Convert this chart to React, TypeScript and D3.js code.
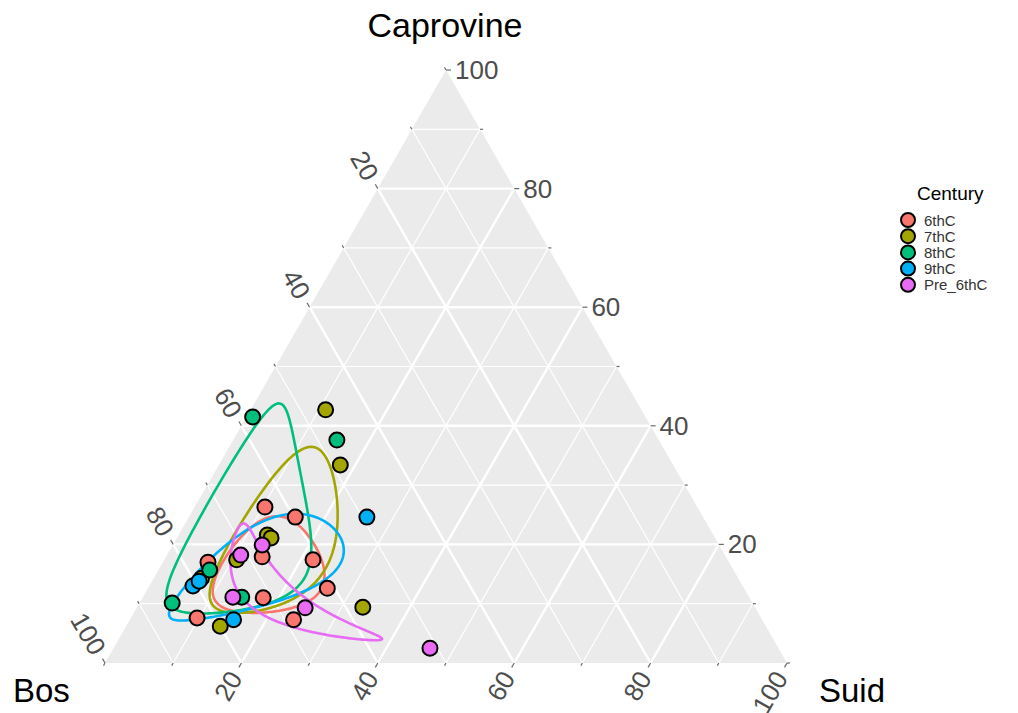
import React from 'react';
import * as d3 from 'd3';

// point data (percent composition)
const centuries = ['6thC', '7thC', '8thC', '9thC', 'Pre_6thC'];
const colors = ['#F8766D', '#A3A500', '#00BF7D', '#00B0F6', '#E76BF3'];

const century = [
  '6thC', '6thC', '6thC', '6thC', '6thC', '6thC', '6thC', '6thC', '6thC',
  '7thC', '7thC', '7thC', '7thC', '7thC', '7thC', '7thC', '7thC',
  '8thC', '8thC', '8thC', '8thC', '8thC',
  '9thC', '9thC', '9thC', '9thC',
  'Pre_6thC', 'Pre_6thC', 'Pre_6thC', 'Pre_6thC', 'Pre_6thC',
];
const bos = [
  63.4, 59.8, 68.0, 60.8, 76.4, 71.3, 82.7, 61.1, 68.7,
  46.3, 48.8, 65.4, 65.1, 72.0, 78.7, 80.0, 57.5,
  57.6, 47.2, 76.8, 85.1, 74.4,
  49.3, 80.6, 79.3, 77.5,
  67.0, 71.0, 75.7, 66.0, 51.1,
];
const caprovine = [
  26.3, 24.6, 17.9, 17.4, 17.0, 11.0, 7.6, 12.6, 7.3,
  42.7, 33.4, 21.6, 21.1, 17.4, 14.3, 6.2, 9.4,
  41.5, 37.6, 15.7, 10.1, 11.1,
  24.6, 13.0, 13.8, 7.3,
  19.9, 18.2, 11.1, 9.3, 2.5,
];
const suid = [
  10.3, 15.6, 14.1, 21.8, 6.6, 17.7, 9.7, 26.3, 24.0,
  11.0, 17.8, 13.0, 13.8, 10.6, 7.0, 13.8, 33.1,
  0.9, 15.2, 7.5, 4.8, 14.5,
  26.1, 6.4, 6.9, 15.2,
  13.1, 10.8, 13.2, 24.7, 46.4,
];

const majorTicks = [20, 40, 60, 80, 100];
const minorTicks = [10, 30, 50, 70, 90];
const confidenceLevel = 0.5;

const font = 'Liberation Sans, Arial, Helvetica, sans-serif';

const xScale = d3.scaleLinear().domain([0, 100]).range([105, 787]);
const yScale = d3.scaleLinear().domain([0, 100]).range([663, 70]);

// ternary (bos, caprovine, suid) -> screen
const proj = (b: number, c: number, s: number): [number, number] => {
  const t = b + c + s;
  const C = (100 * c) / t;
  const S = (100 * s) / t;
  return [xScale(S + C / 2), yScale(C)];
};

// isometric log-ratio helpers for the confidence contours
const ilr = (b: number, c: number, s: number) => [
  Math.SQRT1_2 * Math.log(b / c),
  Math.sqrt(2 / 3) * Math.log(Math.sqrt(b * c) / s),
];
const ilrInv = (z1: number, z2: number) => {
  const v1 = [Math.SQRT1_2, -Math.SQRT1_2, 0];
  const v2 = [1 / Math.sqrt(6), 1 / Math.sqrt(6), -2 / Math.sqrt(6)];
  const e = [0, 1, 2].map((i) => Math.exp(z1 * v1[i] + z2 * v2[i]));
  const t = e[0] + e[1] + e[2];
  return e.map((v) => (100 * v) / t);
};

function confidence(group: string) {
  const idx = century.map((g, i) => (g === group ? i : -1)).filter((i) => i >= 0);
  const Z = idx.map((i) => ilr(bos[i], caprovine[i], suid[i]));
  const n = Z.length;
  const m1 = d3.mean(Z, (z) => z[0])!;
  const m2 = d3.mean(Z, (z) => z[1])!;
  let a = 0, b = 0, d = 0;
  Z.forEach((z) => {
    a += (z[0] - m1) ** 2;
    b += (z[0] - m1) * (z[1] - m2);
    d += (z[1] - m2) ** 2;
  });
  a /= n - 1; b /= n - 1; d /= n - 1;
  const l11 = Math.sqrt(a);
  const l21 = b / l11;
  const l22 = Math.sqrt(Math.max(d - l21 * l21, 0));
  const r = Math.sqrt(-2 * Math.log(1 - confidenceLevel));
  return d3.range(0, 200).map((k) => {
    const th = (2 * Math.PI * k) / 200;
    const u = Math.cos(th), v = Math.sin(th);
    const z1 = m1 + r * l11 * u;
    const z2 = m2 + r * (l21 * u + l22 * v);
    const [bb, cc, ss] = ilrInv(z1, z2);
    return proj(bb, cc, ss);
  });
}

const lineGen = d3.line<[number, number]>();
const closedGen = d3.line<[number, number]>().curve(d3.curveLinearClosed);

const App = () => {
  const colorScale = d3.scaleOrdinal<string, string>().domain(centuries).range(colors);

  const gridLines = (v: number) => [
    [proj(100 - v, v, 0), proj(0, v, 100 - v)],
    [proj(v, 100 - v, 0), proj(v, 0, 100 - v)],
    [proj(100 - v, 0, v), proj(0, 100 - v, v)],
  ] as [number, number][][];

  const allTicks = [...minorTicks, ...majorTicks, 0];
  const dirBos: [number, number] = [-0.5, -0.866];
  const dirSuid: [number, number] = [-0.5, 0.866];
  const dirCap: [number, number] = [1, 0];

  return (
    <svg width={1018} height={713} style={{ display: 'block', position: 'absolute', left: 0, top: 0 }}>
      <rect width={1018} height={713} fill="#fff" />
      <path d={closedGen([proj(100, 0, 0), proj(0, 100, 0), proj(0, 0, 100)])!} fill="#EBEBEB" />
      <g>
        {minorTicks.map((v) =>
          gridLines(v).map((seg, j) => (
            <path key={`mi${v}-${j}`} d={lineGen(seg)!} stroke="#fff" strokeWidth={1.2} fill="none" />
          ))
        )}
        {majorTicks.filter((v) => v < 100).map((v) =>
          gridLines(v).map((seg, j) => (
            <path key={`ma${v}-${j}`} d={lineGen(seg)!} stroke="#fff" strokeWidth={2.4} fill="none" />
          ))
        )}
      </g>
      {/* ticks */}
      <g stroke="#6b6b6b" strokeWidth={1.2}>
        {allTicks.map((v) => {
          const len = majorTicks.includes(v) ? 5 : 3;
          const pb = proj(v, 100 - v, 0);
          const ps = proj(100 - v, 0, v);
          const pc = proj(0, v, 100 - v);
          return (
            <g key={`t${v}`}>
              <line x1={pb[0]} y1={pb[1]} x2={pb[0] + dirBos[0] * len} y2={pb[1] + dirBos[1] * len} />
              <line x1={ps[0]} y1={ps[1]} x2={ps[0] + dirSuid[0] * len} y2={ps[1] + dirSuid[1] * len} />
              <line x1={pc[0]} y1={pc[1]} x2={pc[0] + dirCap[0] * len} y2={pc[1] + dirCap[1] * len} />
            </g>
          );
        })}
      </g>
      {/* tick labels */}
      <g fontFamily={font} fontSize={26} fill="#4D4D4D">
        {majorTicks.map((v) => {
          const pb = proj(v, 100 - v, 0);
          const ps = proj(100 - v, 0, v);
          const pc = proj(0, v, 100 - v);
          const o = 12;
          return (
            <g key={`l${v}`}>
              <text
                transform={`translate(${pb[0] + dirBos[0] * o},${pb[1] + dirBos[1] * o}) rotate(60)`}
                textAnchor="end"
                dominantBaseline="central"
              >
                {v}
              </text>
              <text
                transform={`translate(${ps[0] + dirSuid[0] * o},${ps[1] + dirSuid[1] * o}) rotate(-60)`}
                textAnchor="end"
                dominantBaseline="central"
              >
                {v}
              </text>
              <text x={pc[0] + 9} y={pc[1]} dominantBaseline="central">
                {v}
              </text>
            </g>
          );
        })}
      </g>
      {/* axis titles */}
      <g fontFamily={font} fill="#000">
        <text x={445} y={37} textAnchor="middle" fontSize={34}>Caprovine</text>
        <text x={13} y={702} fontSize={33}>Bos</text>
        <text x={819} y={702} fontSize={33}>Suid</text>
      </g>
      {/* confidence contours */}
      <g fill="none" strokeWidth={2.6}>
        {centuries.map((g) => (
          <path key={`c${g}`} d={closedGen(confidence(g))!} stroke={colorScale(g)} />
        ))}
      </g>
      {/* points */}
      <g stroke="#000" strokeWidth={2}>
        {century.map((g, i) => {
          const [x, y] = proj(bos[i], caprovine[i], suid[i]);
          return <circle key={`p${i}`} cx={x} cy={y} r={7.5} fill={colorScale(g)} />;
        })}
      </g>
      {/* legend */}
      <g fontFamily={font}>
        <text x={917} y={200} fontSize={19} fill="#000">Century</text>
        {centuries.map((g, i) => (
          <g key={`lg${g}`} transform={`translate(0,${220 + i * 16.2})`}>
            <circle cx={908} cy={0} r={7} fill={colorScale(g)} stroke="#000" strokeWidth={2} />
            <text x={924} y={0} fontSize={15} dominantBaseline="central" fill="#333">{g}</text>
          </g>
        ))}
      </g>
    </svg>
  );
};

export default App;
